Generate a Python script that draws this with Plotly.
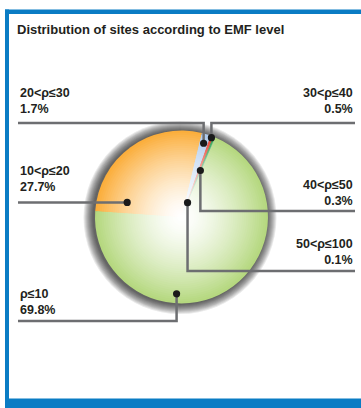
import math
import plotly.graph_objects as go

# Share of measured sites per EMF band (percent)
categories = ["ρ≤10", "10<ρ≤20", "20<ρ≤30", "30<ρ≤40", "40<ρ≤50", "50<ρ≤100"]
shares = [69.8, 27.7, 1.7, 0.5, 0.3, 0.1]
edge_colors = ["#b5d87f", "#fbae3c", "#aecbee", "#e8412f", "#2f9e50", "#6bbf8a"]
label_values = ["69.8%", "27.7%", "1.7%", "0.5%", "0.3%", "0.1%"]

W, H = 361, 408
CX, CY, R = 181.5, 217.0, 86.5      # pie centre / radius in pixels (from top-left)
ROTATION = 23.0                      # start angle of the first slice, clockwise from 12 o'clock

# Leader layout per category: (side, elbow level y, where the dot sits along the slice, dot radius fraction, label centre y)
leaders = [
    ("left", 321, 0.64, 0.89, 302),
    ("left", None, 0.11, 0.65, 179),
    ("left", 123, 0.5, 0.89, 101),
    ("right", 123, 0.5, 0.98, 101),
    ("right", 211, 0.5, 0.58, 193),
    ("right", 271, 0.5, 0.18, 252),
]
LEFT_X, RIGHT_X = 18, 355
LINE_COLOR = "#6d6e71"
TEXT_COLOR = "#231f20"
FRAME = "#0a7cc4"
FONT = "Liberation Sans, Arial, sans-serif"


def px(x):
    return x / W


def py(y):
    return 1 - y / H


def mix(hex_color, t):
    """Blend a colour with white; t=1 gives the colour, t=0 gives white."""
    hc = hex_color.lstrip("#")
    r, g, b = (int(hc[i:i + 2], 16) for i in (0, 2, 4))
    return "rgb(%d,%d,%d)" % tuple(round(255 + (c - 255) * t) for c in (r, g, b))


fig = go.Figure()

# Radial shading: stacked pies shrinking toward the centre and fading to white
n_layers = 40
for k in range(n_layers):
    f = 1 - k / n_layers
    rr = R * f
    t = min(1.0, f ** 1.5)
    fig.add_trace(go.Pie(
        labels=categories,
        values=shares,
        sort=False,
        direction="clockwise",
        rotation=ROTATION,
        marker=dict(colors=[mix(c, t) for c in edge_colors], line=dict(width=0)),
        textinfo="none",
        hoverinfo="label+percent" if k == 0 else "skip",
        showlegend=False,
        domain=dict(x=[px(CX - rr), px(CX + rr)], y=[py(CY + rr), py(CY - rr)]),
    ))

shapes = []

# Soft drop shadow around the pie
for k in range(1, 11):
    rr = R + k
    sx, sy = CX - 1.5, CY + 0.5
    shapes.append(dict(
        type="circle", xref="paper", yref="paper", layer="below",
        x0=px(sx - rr), x1=px(sx + rr), y0=py(sy + rr), y1=py(sy - rr),
        fillcolor="rgba(0,0,0,0.085)", line=dict(width=0),
    ))

# Blue frame: top rule, left rule and bottom bar
shapes += [
    dict(type="rect", xref="paper", yref="paper", layer="below",
         x0=px(5), x1=px(W), y0=py(14), y1=py(9.5), fillcolor=FRAME, line=dict(width=0)),
    dict(type="rect", xref="paper", yref="paper", layer="below",
         x0=px(5), x1=px(9), y0=py(399), y1=py(9.5), fillcolor=FRAME, line=dict(width=0)),
    dict(type="rect", xref="paper", yref="paper", layer="below",
         x0=px(5), x1=px(W), y0=py(H), y1=py(398.5), fillcolor=FRAME, line=dict(width=0)),
]

annotations = []
total = sum(shares)
start = ROTATION
for cat, val, txt, (side, level, along, rad, label_y) in zip(categories, shares, label_values, leaders):
    span = val / total * 360.0
    ang = math.radians(start + along * span)
    start += span
    dx = CX + rad * R * math.sin(ang)
    dy = CY - rad * R * math.cos(ang)
    edge_x = LEFT_X if side == "left" else RIGHT_X
    if level is None:
        path = "M %f %f L %f %f" % (px(dx), py(dy), px(edge_x), py(dy))
    else:
        path = "M %f %f L %f %f L %f %f" % (px(dx), py(dy), px(dx), py(level), px(edge_x), py(level))
    shapes.append(dict(type="path", xref="paper", yref="paper", layer="above",
                       path=path, line=dict(color=LINE_COLOR, width=2.5)))
    rd = 3.6
    shapes.append(dict(type="circle", xref="paper", yref="paper", layer="above",
                       x0=px(dx - rd), x1=px(dx + rd), y0=py(dy + rd), y1=py(dy - rd),
                       fillcolor="#1a1a1a", line=dict(width=0)))
    annotations.append(dict(
        x=px(edge_x), y=py(label_y), xref="paper", yref="paper",
        xanchor="left" if side == "left" else "right", yanchor="middle",
        align="left" if side == "left" else "right",
        text="<b>%s<br>%s</b>" % (cat, txt), showarrow=False,
        font=dict(family=FONT, size=12.5, color=TEXT_COLOR),
    ))

annotations.append(dict(
    x=px(15), y=py(30), xref="paper", yref="paper", xanchor="left", yanchor="middle",
    text="<b>Distribution of sites according to EMF level</b>", showarrow=False,
    font=dict(family=FONT, size=13, color=TEXT_COLOR),
))

fig.update_layout(
    width=W, height=H, autosize=False,
    margin=dict(l=0, r=0, t=0, b=0, pad=0),
    paper_bgcolor="white", plot_bgcolor="white",
    shapes=shapes, annotations=annotations,
    showlegend=False,
)

fig.write_html("out.html", config={"displayModeBar": False})
